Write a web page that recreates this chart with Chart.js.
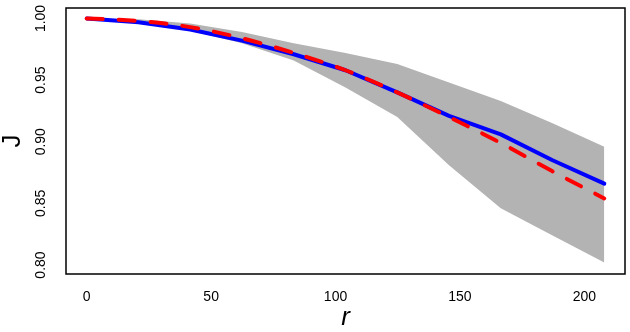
<!DOCTYPE html>
<html>
<head>
<meta charset="utf-8">
<script src="https://cdn.jsdelivr.net/npm/chart.js@4"></script>
<style>
  html, body { margin: 0; padding: 0; background: #fff; }
  #wrap { width: 630px; height: 332px; }
</style>
</head>
<body>
<div id="wrap"><canvas id="myChart" width="630" height="332"></canvas></div>
<script>
// values
const rValues = [0, 20.8, 41.6, 62.4, 83.2, 104, 124.8, 145.6, 166.4, 187.2, 208];
const meanJ  = [1.000, 0.997, 0.991, 0.982, 0.971, 0.958, 0.940, 0.921, 0.906, 0.885, 0.866];
const modelJ = [1.000, 0.998, 0.993, 0.984, 0.972, 0.958, 0.940, 0.920, 0.899, 0.876, 0.854];
const lowerJ = [1.000, 0.997, 0.990, 0.980, 0.966, 0.944, 0.920, 0.881, 0.846, 0.824, 0.802];
const upperJ = [1.000, 0.9993, 0.996, 0.989, 0.980, 0.972, 0.963, 0.948, 0.933, 0.915, 0.896];
const xTicks = [0, 50, 100, 150, 200];
const yTicks = [0.80, 0.85, 0.90, 0.95, 1.00];

const pts = ys => rValues.map((x, i) => ({x: x, y: ys[i]}));
const fontFam = "'Liberation Sans', Arial, sans-serif";

// plot frame like R's box()
const boxPlugin = {
  id: 'box',
  afterDraw(chart) {
    const {ctx, chartArea: a} = chart;
    ctx.save();
    ctx.strokeStyle = '#000';
    ctx.lineWidth = 1.5;
    ctx.strokeRect(a.left, a.top, a.right - a.left, a.bottom - a.top);
    ctx.restore();
  }
};

// keep the plot region fixed, no extra label padding
function noPad(s) {
  s.paddingTop = 0; s.paddingBottom = 0; s.paddingLeft = 0; s.paddingRight = 0;
}

var ctx = document.getElementById('myChart').getContext('2d');
var myChart = new Chart(ctx, {
  type: 'line',
  data: {
    datasets: [{
      label: 'model',
      data: pts(modelJ),
      borderColor: '#ff0000',
      borderWidth: 4,
      borderDash: [16, 16],
      borderCapStyle: 'round',
      cubicInterpolationMode: 'monotone',
      pointRadius: 0,
      fill: false
    }, {
      label: 'mean',
      data: pts(meanJ),
      borderColor: '#0000ff',
      borderWidth: 4,
      borderCapStyle: 'round',
      borderJoinStyle: 'round',
      tension: 0,
      pointRadius: 0,
      fill: false
    }, {
      label: 'lower',
      data: pts(lowerJ),
      borderWidth: 0,
      borderColor: 'rgba(0,0,0,0)',
      pointRadius: 0,
      tension: 0,
      fill: false
    }, {
      label: 'upper',
      data: pts(upperJ),
      borderWidth: 0,
      borderColor: 'rgba(0,0,0,0)',
      backgroundColor: '#b3b3b3',
      pointRadius: 0,
      tension: 0,
      fill: '-1'
    }]
  },
  options: {
    responsive: false,
    animation: false,
    layout: { padding: { top: 8, right: 5, left: 0, bottom: 0 } },
    plugins: { legend: { display: false }, tooltip: { enabled: false } },
    scales: {
      x: {
        type: 'linear',
        min: -8.32,
        max: 216.32,
        grid: { display: false, drawTicks: false },
        border: { display: false },
        afterBuildTicks: s => { s.ticks = xTicks.map(v => ({value: v})); },
        afterFit: s => { s.height = 58; noPad(s); },
        ticks: {
          padding: 15,
          color: '#000',
          maxRotation: 0,
          font: { family: fontFam, size: 14 }
        },
        title: {
          display: true,
          text: 'r',
          color: '#000',
          padding: { top: 0, bottom: 1 },
          font: { family: fontFam, size: 26, style: 'italic', lineHeight: 1 }
        }
      },
      y: {
        min: 0.7927,
        max: 1.0085,
        grid: { display: false, drawTicks: false },
        border: { display: false },
        afterBuildTicks: s => { s.ticks = yTicks.map(v => ({value: v})); },
        afterFit: s => { s.width = 66; noPad(s); },
        ticks: {
          padding: 11,
          color: '#000',
          minRotation: 90,
          maxRotation: 90,
          crossAlign: 'center',
          font: { family: fontFam, size: 14 },
          callback: v => v.toFixed(2)
        },
        title: {
          display: true,
          text: 'J',
          color: '#000',
          padding: 0,
          font: { family: fontFam, size: 26, lineHeight: 1 }
        }
      }
    }
  },
  plugins: [boxPlugin]
});
</script>
</body>
</html>
